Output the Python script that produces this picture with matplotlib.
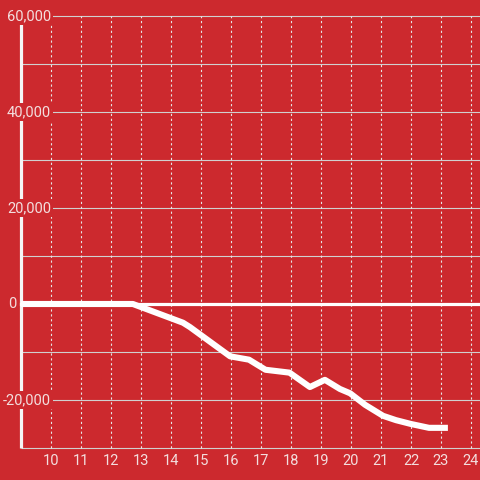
import matplotlib
matplotlib.use('Agg')
import matplotlib.pyplot as plt

# hours and value
hours = [9.0, 12.73, 14.4, 14.63, 15.97, 16.6, 17.15, 17.95, 18.63, 19.13,
         19.63, 19.97, 20.47, 21.07, 21.5, 22.0, 22.6, 23.23]
values = [0, 0, -3900, -4800, -10900, -11600, -13700, -14300, -17300, -15800,
          -17700, -18600, -21000, -23300, -24200, -25000, -25800, -25800]

x_ticks = list(range(10, 25))
y_grid = list(range(-30000, 60001, 10000))
y_labels = [60000, 40000, 20000, 0, -20000]

bg = '#cc292e'
txt = '#f3dede'

fig = plt.figure(figsize=(4.8, 4.8), dpi=100)
fig.patch.set_facecolor(bg)
ax = fig.add_axes([0, 0, 1, 1])
ax.set_facecolor(bg)
ax.set_axis_off()
ax.set_xlim(8.3, 24.3)
ax.set_ylim(-36667, 63333)

# grid
ax.hlines(y_grid, 9.0, 24.3, colors='#d0d0d0', linewidth=0.8, zorder=1)
ax.vlines(x_ticks, -30000, 60000, colors='#e6e6e6', linewidth=0.8,
          linestyles=(0, (2, 2.4)), zorder=1)

# zero line and y axis
ax.axhline(0, xmin=(9.0 - 8.3) / 16.0, color='white', linewidth=2.3, zorder=3)
ax.vlines([9.0], -30000, 60000, colors='#f5f5f5', linewidth=2.3, zorder=2)

# labels
for v in y_labels:
    xpos = 8.83 if v == 0 else 10.0
    ax.text(xpos, v, f'{v:,}', ha='right', va='center', color=txt,
            fontsize=10.5, family=['Roboto', 'DejaVu Sans'], zorder=4,
            bbox=dict(facecolor=bg, edgecolor='none', pad=1.2))
for t in x_ticks:
    ax.text(t, -32700, str(t), ha='center', va='center', color=txt,
            fontsize=10.5, family=['Roboto', 'DejaVu Sans'], zorder=4)

ax.plot(hours, values, color='white', linewidth=4.4, solid_capstyle='butt',
        solid_joinstyle='round', zorder=5)

fig.savefig('out.png', dpi=100, facecolor=bg)
